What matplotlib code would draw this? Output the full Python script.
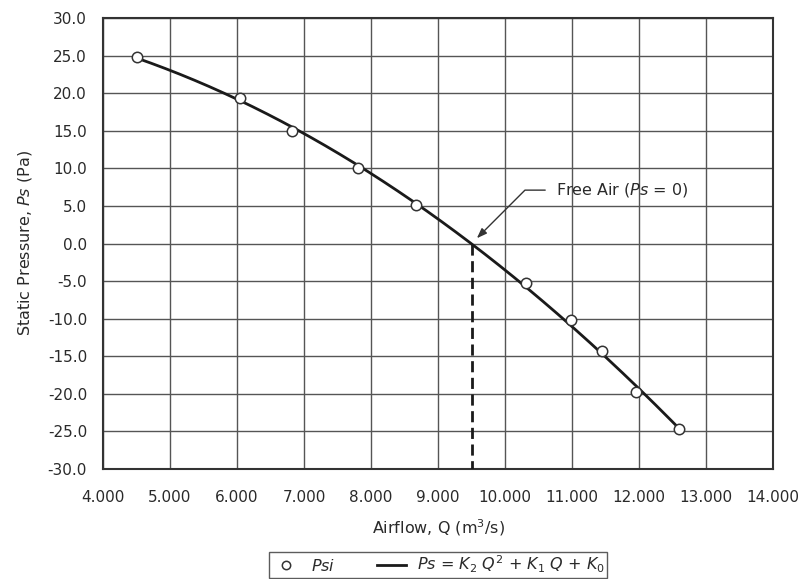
import numpy as np
import matplotlib
matplotlib.use("Agg")
import matplotlib.pyplot as plt
from matplotlib.ticker import FuncFormatter

plt.rcParams['font.family'] = ['DejaVu Sans']
plt.rcParams['mathtext.fontset'] = 'dejavusans'

# data
airflow = [4500, 6050, 6820, 7800, 8670, 10320, 10980, 11450, 11950, 12600]
psi = [24.8, 19.4, 15.0, 10.0, 5.1, -5.3, -10.2, -14.3, -19.8, -24.7]
free_air_q = 9500
x_ticks = [4000, 5000, 6000, 7000, 8000, 9000, 10000, 11000, 12000, 13000, 14000]
y_ticks = [-30, -25, -20, -15, -10, -5, 0, 5, 10, 15, 20, 25, 30]

TXT = '#2a2a2a'
fig = plt.figure(figsize=(8.03, 5.79), dpi=100)
ax = fig.add_axes([103/803, 1 - 469/579, 670/803, 451/579])

# quadratic fit Ps = K2 Q^2 + K1 Q + K0
coef = np.polyfit(airflow, psi, 2)
qq = np.linspace(min(airflow), max(airflow), 300)
line, = ax.plot(qq, np.polyval(coef, qq), color='#1a1a1a', lw=2, zorder=3)
pts, = ax.plot(airflow, psi, 'o', ms=7.5, mfc='white', mec='#333333', mew=1.1,
               ls='none', zorder=4)

ax.plot([free_air_q, free_air_q], [0, -30], color='#1a1a1a', lw=2,
        ls=(0, (4, 2)), zorder=3)

ax.annotate('', xy=(9580, 0.7), xytext=(10600, 7.1),
            arrowprops=dict(arrowstyle='-|>,head_length=0.6,head_width=0.22',
                            color='#333333', lw=1,
                            connectionstyle='angle,angleA=0,angleB=45,rad=0',
                            shrinkA=0, shrinkB=0), zorder=5)
ax.text(10760, 7.1, r'Free Air ($\it{Ps}$ = 0)', fontsize=11.5, va='center',
        ha='left', color=TXT, zorder=5)

ax.set_xlim(4000, 14000)
ax.set_ylim(-30, 30)
ax.set_xticks(x_ticks)
ax.set_yticks(y_ticks)
ax.xaxis.set_major_formatter(FuncFormatter(lambda v, p: f"{int(v/1000)}.{int(v % 1000):03d}"))
ax.yaxis.set_major_formatter(FuncFormatter(lambda v, p: f"{v:.1f}"))
ax.tick_params(length=0, labelsize=11, colors=TXT)
ax.tick_params(axis='y', pad=11.5)
ax.tick_params(axis='x', pad=15)
ax.grid(True, color='#555555', lw=1)
ax.set_axisbelow(True)
for s in ax.spines.values():
    s.set_linewidth(1.5)
    s.set_color('#333333')

ax.set_xlabel(r'Airflow, Q (m$^3$/s)', fontsize=11.5, color=TXT, labelpad=9)
ax.set_ylabel(r'Static Pressure, $\it{Ps}$ (Pa)', fontsize=11.5, color=TXT, labelpad=10)

leg = fig.legend([pts, line],
                 [r'$\it{Psi}$', r'$\it{Ps}$ = $\it{K}_{\it{2}}\ \it{Q}^2$ + $\it{K}_{\it{1}}\ \it{Q}$ + $\it{K}_{\it{0}}$'],
                 loc='lower center', bbox_to_anchor=(438/803, 0.002), ncol=2,
                 fontsize=11.5, frameon=True, fancybox=False, edgecolor='#333333',
                 handlelength=1.8, handletextpad=0.7, columnspacing=2.6, borderpad=0.15,
                 borderaxespad=0, markerscale=0.8)
leg.get_frame().set_linewidth(1)
for t in leg.get_texts():
    t.set_color(TXT)

fig.savefig('out.png', dpi=100)
